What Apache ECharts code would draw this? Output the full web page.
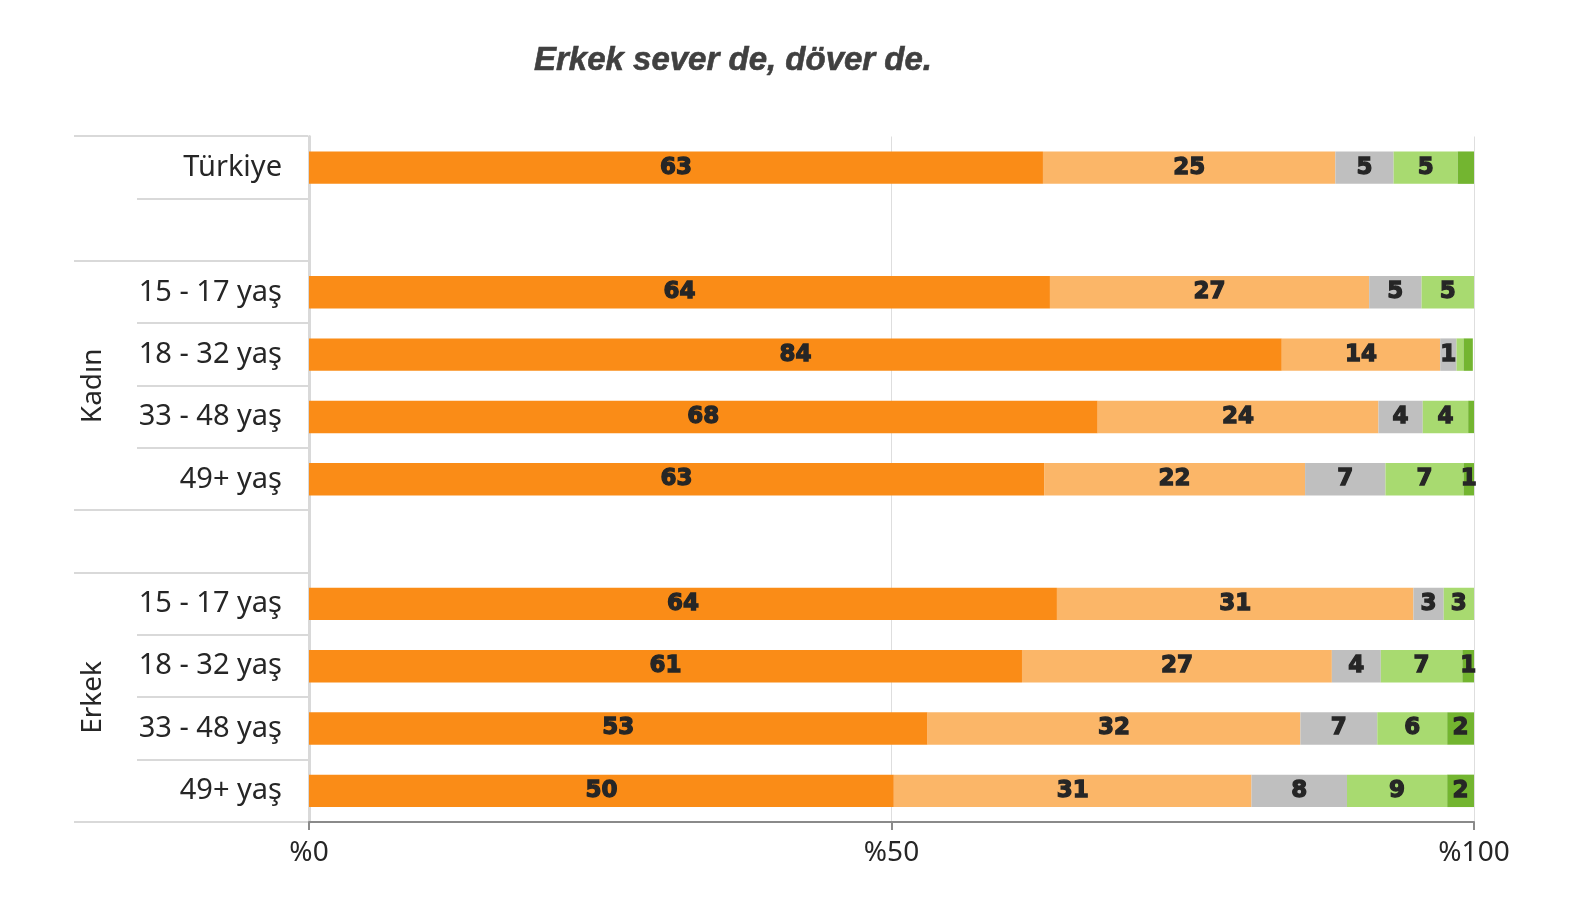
<!DOCTYPE html>
<html>
<head>
<meta charset="utf-8">
<script src="https://cdn.jsdelivr.net/npm/echarts@6/dist/echarts.min.js"></script>
<style>
html,body{margin:0;padding:0;background:#fff;}
#chart{width:1588px;height:918px;}
</style>
</head>
<body>
<div id="chart"></div>
<script>
// ---- data ----
const titleText = 'Erkek sever de, döver de.';
const categories = ['Türkiye', '', '15 - 17 yaş', '18 - 32 yaş', '33 - 48 yaş', '49+ yaş', '', '15 - 17 yaş', '18 - 32 yaş', '33 - 48 yaş', '49+ yaş'];
const groups = [
  { name: 'Kadın', from: 2, to: 5 },
  { name: 'Erkek', from: 7, to: 10 }
];
const xTicks = [0, 50, 100];
const tickPrefix = '%';

const s1 = [63.0, null, 63.6, 83.5, 67.7, 63.1, null, 64.2, 61.2, 53.1, 50.2];
const s2 = [25.1, null, 27.4, 13.6, 24.1, 22.4, null, 30.6, 26.6, 32.0, 30.7];
const s3 = [5.0, null, 4.5, 1.4, 3.8, 6.9, null, 2.6, 4.2, 6.6, 8.2];
const s4 = [5.5, null, 4.5, 0.6, 3.9, 6.7, null, 2.6, 7.0, 6.0, 8.6];
const s5 = [1.4, null, 0, 0.8, 0.5, 0.9, null, 0, 1.0, 2.3, 2.3];

const l1 = ['63', '', '64', '84', '68', '63', '', '64', '61', '53', '50'];
const l2 = ['25', '', '27', '14', '24', '22', '', '31', '27', '32', '31'];
const l3 = ['5', '', '5', '1', '4', '7', '', '3', '4', '7', '8'];
const l4 = ['5', '', '5', '', '4', '7', '', '3', '7', '6', '9'];
const l5 = ['', '', '', '', '', '1', '', '', '1', '2', '2'];

const colors = ['#FA8C17', '#FBB668', '#BFBFBF', '#A8DA70', '#73B530'];

// ---- chart ----
const chart = echarts.init(document.getElementById('chart'));
const seriesVals = [s1, s2, s3, s4, s5];
const seriesLabels = [l1, l2, l3, l4, l5];

const series = seriesVals.map((vals, k) => ({
  type: 'bar',
  stack: 'total',
  barWidth: '52%',
  data: vals,
  itemStyle: { color: colors[k] },
  silent: true,
  label: {
    show: true,
    position: 'inside',
    formatter: p => seriesLabels[k][p.dataIndex],
    fontFamily: 'DejaVu Sans',
    fontWeight: 'bold',
    fontSize: 23,
    color: '#262626',
    textBorderColor: '#262626',
    textBorderWidth: 1.3
  }
}));

chart.setOption({
  animation: false,
  backgroundColor: '#ffffff',
  grid: { left: 309, right: 114, top: 136.5, bottom: 96, containLabel: false },
  xAxis: {
    type: 'value',
    min: xTicks[0],
    max: xTicks[xTicks.length - 1],
    interval: xTicks[1] - xTicks[0],
    axisLine: { show: true, lineStyle: { color: '#8a8a8a', width: 2 } },
    axisTick: { show: true, length: 8, lineStyle: { color: '#8a8a8a', width: 2 } },
    axisLabel: {
      formatter: v => tickPrefix + v,
      fontFamily: 'Noto Sans',
      fontSize: 28,
      color: '#262626',
      margin: 17
    },
    splitLine: { show: true, lineStyle: { color: '#dedede', width: 1 } }
  },
  yAxis: {
    type: 'category',
    inverse: true,
    data: categories,
    axisLine: { show: true, lineStyle: { color: '#d9d9d9', width: 3 } },
    axisTick: { show: false },
    axisLabel: {
      fontFamily: 'Noto Sans',
      fontSize: 29,
      color: '#262626',
      margin: 27
    },
    splitLine: { show: false }
  },
  series: series
});

// ---- separators and group labels positioned via the axis scale ----
function buildGraphics() {
  const yc = i => chart.convertToPixel({ yAxisIndex: 0 }, i);
  const bw = yc(1) - yc(0);
  const bound = k => yc(0) - bw / 2 + k * bw;
  const xAxis0 = chart.convertToPixel({ xAxisIndex: 0 }, 0);
  const n = categories.length;
  const longSet = new Set([0, n]);
  groups.forEach(g => { longSet.add(g.from); longSet.add(g.to + 1); });
  const els = [];
  for (let k = 0; k <= n; k++) {
    const isLong = longSet.has(k);
    const y = Math.round(bound(k));
    els.push({
      type: 'line',
      silent: true,
      z: 0,
      shape: { x1: isLong ? 74 : 137, y1: y, x2: xAxis0 - 1, y2: y },
      style: { stroke: '#d9d9d9', lineWidth: 2 }
    });
  }
  groups.forEach(g => {
    const yMid = (yc(g.from) + yc(g.to)) / 2;
    els.push({
      type: 'text',
      silent: true,
      x: 93,
      y: yMid,
      rotation: Math.PI / 2,
      style: {
        text: g.name,
        font: '28px "Noto Sans"',
        fill: '#262626',
        textAlign: 'center',
        textVerticalAlign: 'middle'
      }
    });
  });
  els.push({
    type: 'text',
    silent: true,
    x: 733,
    y: 61,
    style: {
      text: titleText,
      font: 'italic bold 33px "Liberation Sans"',
      fill: '#404040',
      stroke: '#404040',
      lineWidth: 0.6,
      textAlign: 'center',
      textVerticalAlign: 'middle'
    }
  });
  chart.setOption({ graphic: els });
}
buildGraphics();
</script>
</body>
</html>
